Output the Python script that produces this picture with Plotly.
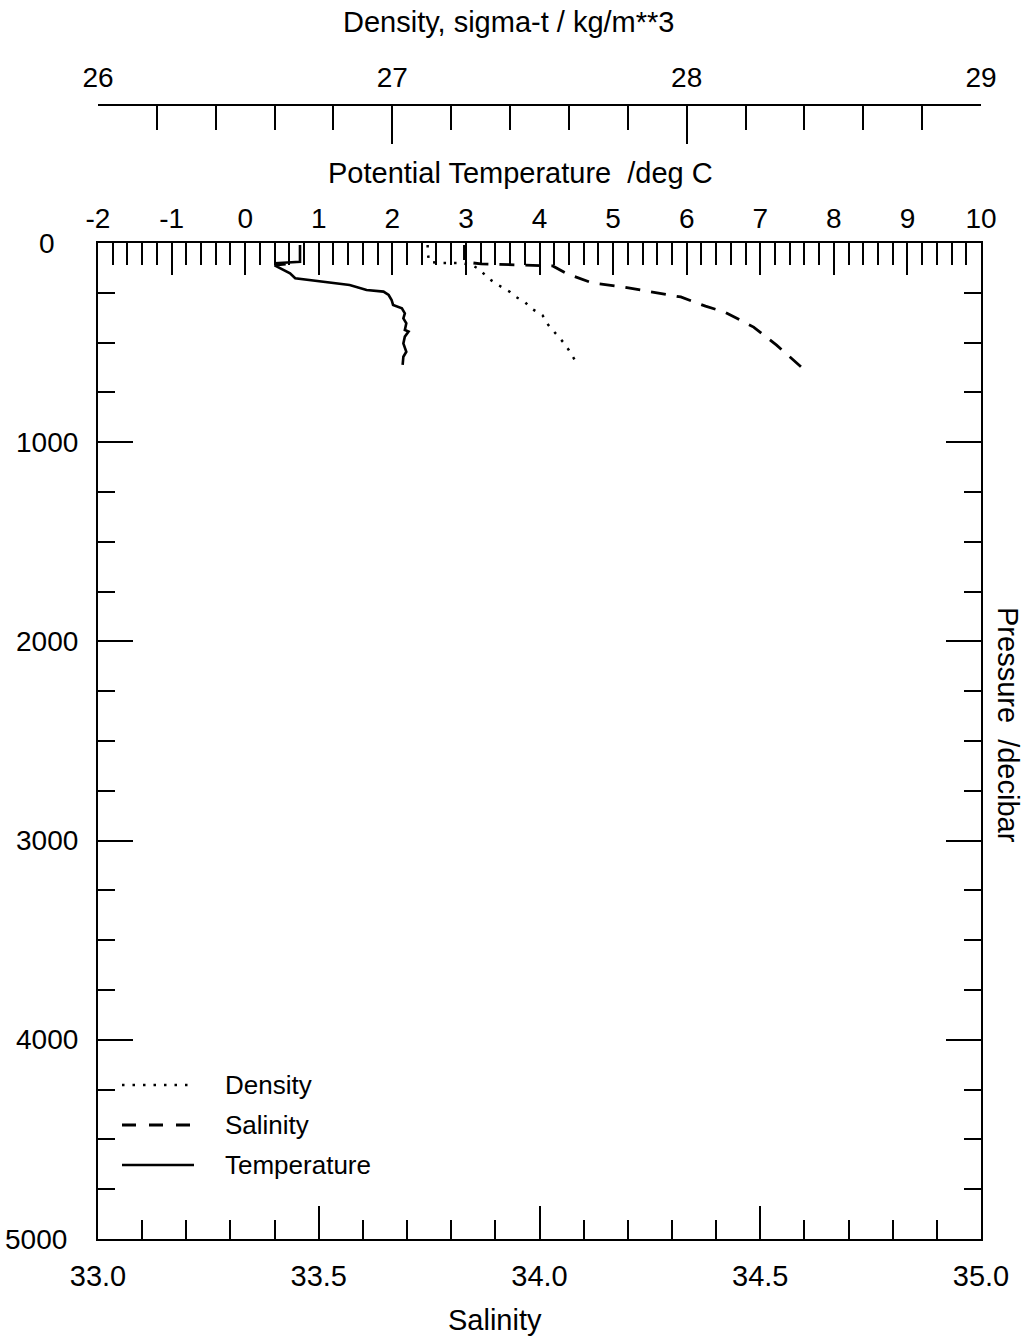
import plotly.graph_objects as go

# ---------------- data ----------------
temp_p = [10, 35, 94, 102, 106, 112, 152, 177, 194, 211, 236, 244, 261, 286, 311,
          328, 353, 378, 403, 437, 445, 470, 504, 546, 571, 612]
temp_t = [0.745, 0.745, 0.745, 0.40, 0.55, 0.40, 0.61, 0.68, 1.06, 1.42, 1.65, 1.88,
          1.95, 1.99, 2.01, 2.13, 2.17, 2.15, 2.19, 2.17, 2.22, 2.17, 2.15, 2.19,
          2.15, 2.14]

dens_p = [10, 45, 95, 100, 100, 110, 136, 171, 211, 246, 271, 296, 327, 362, 412,
          462, 497, 538, 588, 600]
dens_d = [27.12, 27.12, 27.125, 27.16, 27.23, 27.27, 27.30, 27.32, 27.36, 27.40,
          27.42, 27.45, 27.47, 27.51, 27.53, 27.56, 27.58, 27.60, 27.62, 27.625]

sal_p = [10, 35, 95, 105, 115, 156, 201, 221, 246, 271, 317, 347, 422, 513, 623]
sal_s = [33.83, 33.83, 33.83, 33.868, 34.03, 34.064, 34.12, 34.19, 34.26, 34.32,
         34.376, 34.42, 34.485, 34.537, 34.593]

sal_range = [33.0, 35.0]
temp_range = [-2, 10]
dens_range = [26, 29]
pres_range = [5000, 0]

temp_ticks = [-2, -1, 0, 1, 2, 3, 4, 5, 6, 7, 8, 9, 10]
temp_labels = ["-2", "-1", "0", "1", "2", "3", "4", "5", "6", "7", "8", "9", "10"]
pres_ticks = [0, 1000, 2000, 3000, 4000, 5000]
pres_labels = ["0", "1000", "2000", "3000", "4000", "5000"]

# ---------------- layout geometry ----------------
W, H = 1027, 1340
L, R, T, B = 98, 46, 100, 101
PW = W - L - R
PH = H - T - B
plot_top_px = 243
dens_line_px = 105


def py(ypx):
    return (H - B - ypx) / PH


def px(xpx):
    return (xpx - L) / PW


FONT = "Liberation Sans, Arial, sans-serif"
TICKF = dict(family=FONT, size=28, color="black")

fig = go.Figure()
fig.add_trace(go.Scatter(x=dens_d, y=dens_p, xaxis="x3", yaxis="y", mode="lines",
                         line=dict(color="black", width=2.5, dash="2.5px,8px"),
                         name="Density", showlegend=False))
fig.add_trace(go.Scatter(x=sal_s, y=sal_p, xaxis="x", yaxis="y", mode="lines",
                         line=dict(color="black", width=2.8, dash="15px,11px"),
                         name="Salinity", showlegend=False))
fig.add_trace(go.Scatter(x=temp_t, y=temp_p, xaxis="x2", yaxis="y", mode="lines",
                         line=dict(color="black", width=2.6),
                         name="Temperature", showlegend=False))

fig.update_layout(
    width=W, height=H, autosize=False,
    margin=dict(l=L, r=R, t=T, b=B, pad=0),
    paper_bgcolor="white", plot_bgcolor="white",
    font=dict(family=FONT, color="black"),
    xaxis=dict(range=sal_range, domain=[0, 1], anchor="y", side="bottom",
               showgrid=False, zeroline=False, showline=True, linecolor="black",
               linewidth=2, ticks="inside", ticklen=33, tickwidth=2,
               tickcolor="black", dtick=0.5, tick0=33, tickformat=".1f",
               tickfont=dict(family=FONT, size=29, color="black"),
               ticklabelstandoff=10,
               minor=dict(dtick=0.1, tick0=33, ticks="inside", ticklen=19,
                          tickwidth=2, tickcolor="black", showgrid=False)),
    xaxis2=dict(range=temp_range, overlaying="x", anchor="y", side="top",
                showgrid=False, zeroline=False, showline=True, linecolor="black",
                linewidth=2, ticks="inside", ticklen=32, tickwidth=2,
                tickcolor="black", tickmode="array", tickvals=temp_ticks,
                ticktext=temp_labels, tickfont=TICKF,
                ticklabelstandoff=2,
                minor=dict(dtick=0.2, tick0=0, ticks="inside", ticklen=22,
                           tickwidth=2, tickcolor="black", showgrid=False)),
    xaxis3=dict(range=dens_range, overlaying="x", anchor="free",
                position=py(dens_line_px), side="top",
                showgrid=False, zeroline=False, showline=True, linecolor="black",
                linewidth=1.6, ticks="inside", ticklen=38, tickwidth=1.6,
                tickcolor="black", dtick=1, tick0=26, tickfont=TICKF,
                ticklabelstandoff=6,
                minor=dict(dtick=0.2, tick0=26, ticks="inside", ticklen=24,
                           tickwidth=1.6, tickcolor="black", showgrid=False)),
    yaxis=dict(range=pres_range, domain=[0, py(plot_top_px)], anchor="x",
               showgrid=False, zeroline=False, showline=True, linecolor="black",
               linewidth=2, mirror="ticks", ticks="inside", ticklen=35,
               tickwidth=2, tickcolor="black", dtick=1000, tick0=0,
               showticklabels=False,
               minor=dict(dtick=250, tick0=0, ticks="inside", ticklen=17,
                          tickwidth=2, tickcolor="black", showgrid=False)),
)

# pressure tick labels, centred in the left margin (placed on the y scale)
label_x_px = {"5000": 36}
for v, lab in zip(pres_ticks, pres_labels):
    fig.add_annotation(xref="paper", yref="y", x=px(label_x_px.get(lab, 47)), y=v,
                       text=lab, showarrow=False, xanchor="center",
                       yanchor="middle", font=TICKF)

# axis titles
ann = [
    dict(text="Density, sigma-t / kg/m**3", x=px(508), y=py(22)),
    dict(text="Potential Temperature\u00a0 /deg C", x=px(520), y=py(173)),
    dict(text="Salinity", x=px(495), y=py(1320)),
    dict(text="Pressure\u00a0 /decibar", x=px(1008), y=py(725), textangle=90),
]
for a in ann:
    fig.add_annotation(xref="paper", yref="paper", showarrow=False,
                       xanchor="center", yanchor="middle",
                       font=dict(family=FONT, size=29, color="black"), **a)

# legend (drawn as key lines + labels in the lower left corner)
legend_items = [("Density", "2.5px,8px", 2.5, 1085),
                ("Salinity", "14px,13px", 2.8, 1125),
                ("Temperature", "solid", 2.6, 1165)]
for name, dash, wd, ypx in legend_items:
    fig.add_shape(type="line", xref="paper", yref="paper",
                  x0=px(122), x1=px(194), y0=py(ypx), y1=py(ypx),
                  line=dict(color="black", width=wd, dash=dash))
    fig.add_annotation(xref="paper", yref="paper", showarrow=False,
                       x=px(223), y=py(ypx), xanchor="left", yanchor="middle",
                       text=name, font=dict(family=FONT, size=26, color="black"))

fig.write_html("out.html",
               config={"displayModeBar": False},
               post_script="document.body.style.margin='0px';"
                           "document.body.style.overflow='hidden';")
